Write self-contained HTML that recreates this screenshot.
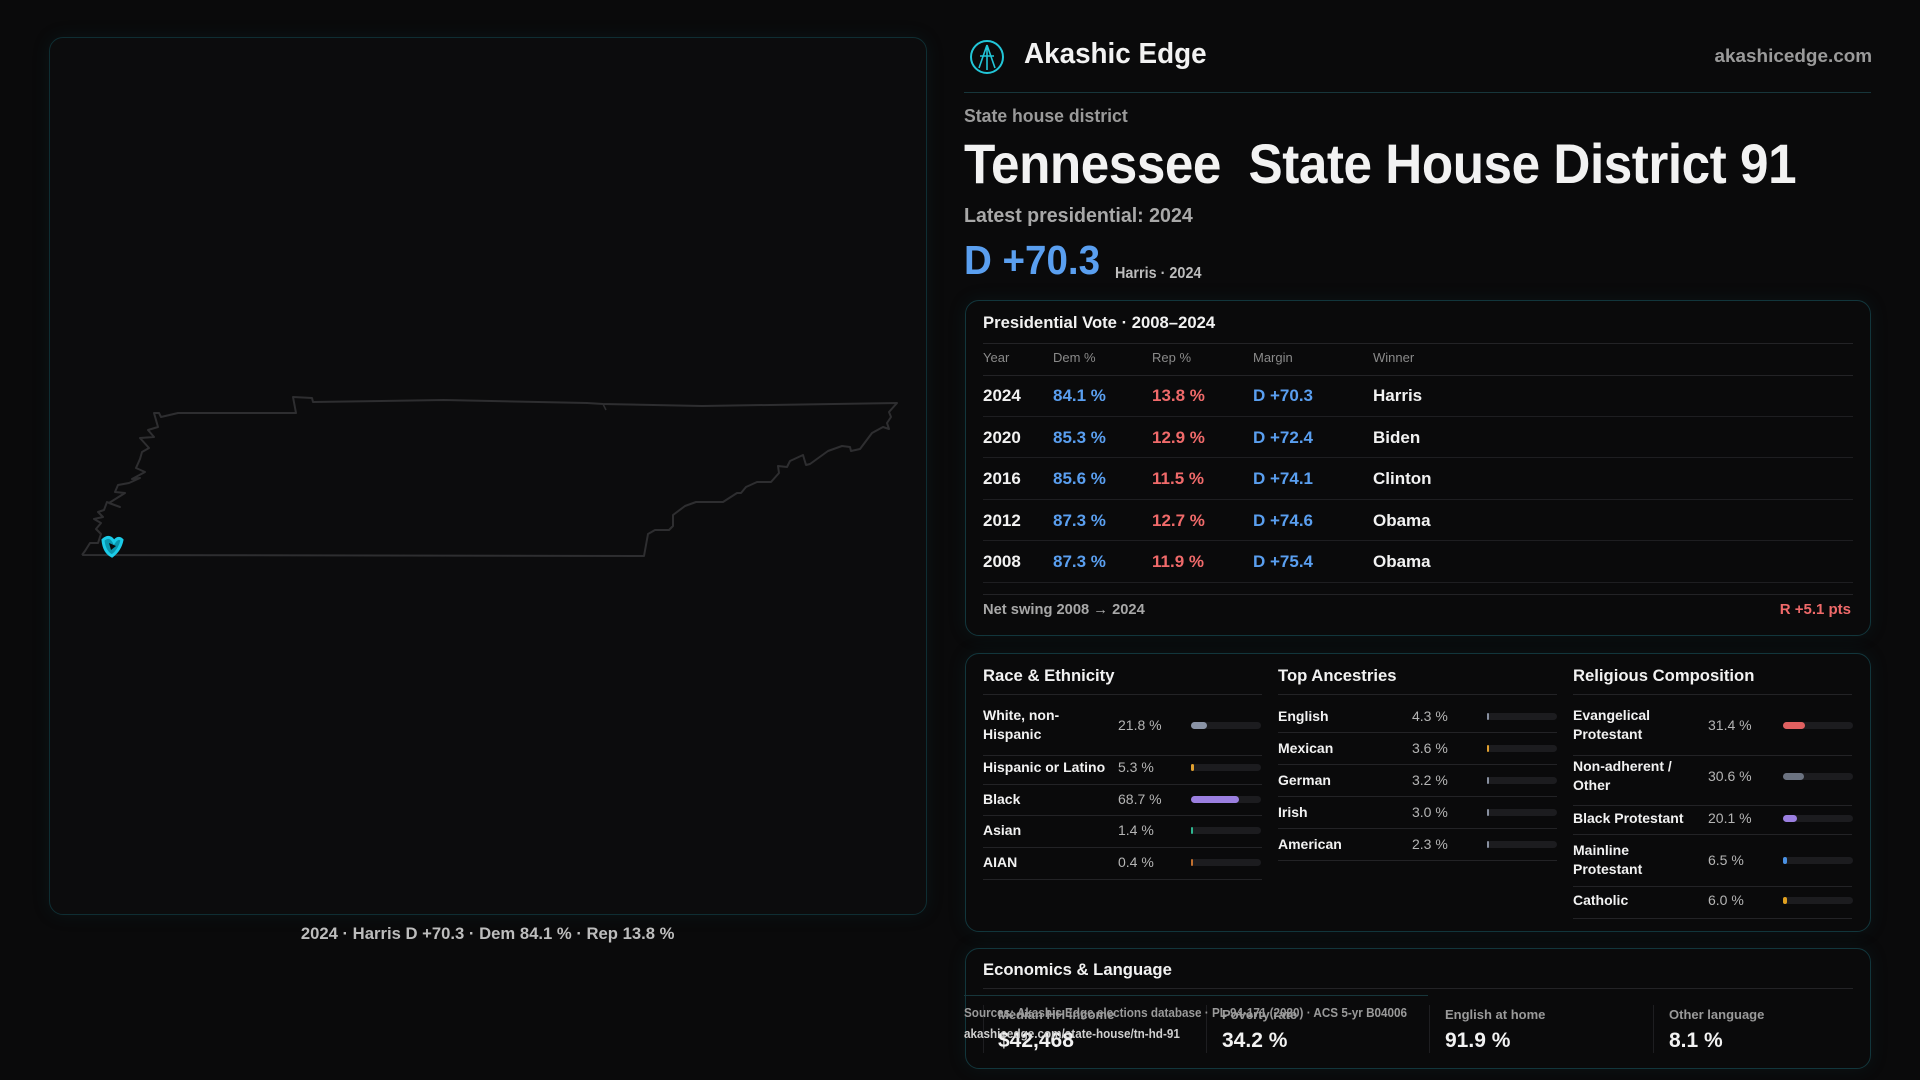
<!DOCTYPE html>
<html><head><meta charset="utf-8"><style>
*{margin:0;padding:0;box-sizing:border-box}
body{width:1920px;height:1080px;background:#0a0a0b;font-family:"Liberation Sans",sans-serif;color:#f2f2f2;position:relative;overflow:hidden}
.a{position:absolute;white-space:nowrap}
.card{position:absolute;border:1px solid #12363c;border-radius:14px;background:#0a0a0b;box-shadow:0 0 18px rgba(20,80,90,.15)}
.sx{display:inline-block;transform:scaleX(.98);transform-origin:left center}
.g{color:#9a9a9a}
.blue{color:#5a9ff0}.red{color:#f06a6a}
.hl{position:absolute;height:1px;background:#232326}
.track{position:absolute;height:7px;border-radius:4px;background:#1c1c1f;width:70px}
.fill{position:absolute;left:0;top:0;height:7px;border-radius:4px}
.lbl{font-size:14px;font-weight:bold;line-height:19px}
.val{font-size:14px;color:#b5b5b5}
</style></head><body>

<div class="card" style="left:49px;top:37px;width:878px;height:878px;background:#0c0c0d;border-color:#0f2e33"></div>
<svg class="a" style="left:0;top:0" width="960" height="1080">
<polyline fill="none" stroke="#2e2e30" stroke-width="2" stroke-linejoin="round" points="82,555 644,556 648,534 655,530 669,530 673,526 673,515 685,506 696,502 723,502 737,493 741,493 746,487 757,482 771,482 779,473 778,466 787,467 790,461 803,455 806,465 810,464 828,451 842,446 850,447 851,451 860,449 872,433 883,427 889,429 887,423 891,417 889,412 897,403 702,406 603,404 587,403 444,400 313,402 312,398 293,397 296,413 178,413 161,417 159,413 154,413 158,427 148,430 154,437 140,438 149,448 142,452 140,459 136,468 145,472 132,479 140,478 129,483 118,485 115,492 125,493 109,503 120,507 107,502 104,510 98,512 103,517 94,519 101,523 96,529 101,534 98,543 90,543 85,551 82,555"/>
<line x1="603" y1="404" x2="606" y2="410" stroke="#2e2e30" stroke-width="1.5"/>
<path d="M103,540 Q110,534 114,542 Q118,536 122,540 Q120,550 112,556 Q104,552 103,540Z" fill="#0aa6c0" stroke="#1de0ff" stroke-width="3" opacity="0.9"/>
<path d="M109,543 L116,546 L111,550Z" fill="#0a0a0b"/>
</svg>
<div class="a" style="left:0;width:976px;top:924px;text-align:center;font-size:17px;color:#bdbdbd"><span class="sx" style="transform-origin:center;font-weight:bold">2024 · Harris D +70.3 · Dem 84.1 % · Rep 13.8 %</span></div>

<svg class="a" style="left:968px;top:38px" width="38" height="38"><circle cx="19" cy="19" r="16" fill="none" stroke="#22c6d8" stroke-width="2"/><path d="M19,7 L11,30 M19,7 L27,30 M12,18 L26,18 M19,7 V32" stroke="#22c6d8" stroke-width="1.6" fill="none"/></svg>
<div class="a" style="left:1024px;top:38px;font-size:29px;font-weight:bold"><span class="sx" style="transform:scaleX(.96)">Akashic Edge</span></div>
<div class="a g" style="right:48px;top:46px;font-size:18px;font-weight:bold"><span class="sx" style="transform-origin:right center;transform:scaleX(1.05)">akashicedge.com</span></div>
<div class="hl" style="left:964px;width:907px;top:92px;background:#17363b"></div>
<div class="a g" style="left:964px;top:106px;font-size:18px;font-weight:bold"><span class="sx">State house district</span></div>
<div class="a" style="left:964px;top:131px;font-size:56px;font-weight:bold;letter-spacing:-0.5px"><span class="sx" style="transform:scaleX(.915)">Tennessee&nbsp; State House District 91</span></div>
<div class="a" style="left:964px;top:205px;font-size:20px;font-weight:bold;color:#a8a8a8"><span class="sx">Latest presidential: 2024</span></div>
<div class="a blue" style="left:964px;top:237px;font-size:41px;font-weight:bold"><span class="sx" style="transform:scaleX(.94)">D +70.3</span></div>
<div class="a" style="left:1115px;top:265px;font-size:16px;color:#bdbdbd;font-weight:bold"><span class="sx" style="transform:scaleX(.9)">Harris · 2024</span></div>

<div class="card" style="left:965px;top:300px;width:906px;height:336px"></div>
<div class="a" style="left:983px;top:313px;font-size:17px;font-weight:bold"><span class="sx">Presidential Vote · 2008–2024</span></div>
<div class="hl" style="left:983px;width:870px;top:343px"></div>
<div class="a" style="left:983px;top:350px;font-size:13px;color:#8a8a8a">Year</div>
<div class="a" style="left:1053px;top:350px;font-size:13px;color:#8a8a8a">Dem %</div>
<div class="a" style="left:1152px;top:350px;font-size:13px;color:#8a8a8a">Rep %</div>
<div class="a" style="left:1253px;top:350px;font-size:13px;color:#8a8a8a">Margin</div>
<div class="a" style="left:1373px;top:350px;font-size:13px;color:#8a8a8a">Winner</div>
<div class="hl" style="left:983px;width:870px;top:375px"></div>
<div style="position:absolute;left:983px;top:375px;width:870px;font-size:17px;font-weight:bold">
 <div style="position:relative;height:41.6px;border-bottom:1px solid #1e1e21"><span class="a" style="left:0;top:11px">2024</span><span class="a blue" style="left:70px;top:11px">84.1 %</span><span class="a red" style="left:169px;top:11px">13.8 %</span><span class="a blue" style="left:270px;top:11px">D +70.3</span><span class="a" style="left:390px;top:11px">Harris</span></div>
 <div style="position:relative;height:41.6px;border-bottom:1px solid #1e1e21"><span class="a" style="left:0;top:11px">2020</span><span class="a blue" style="left:70px;top:11px">85.3 %</span><span class="a red" style="left:169px;top:11px">12.9 %</span><span class="a blue" style="left:270px;top:11px">D +72.4</span><span class="a" style="left:390px;top:11px">Biden</span></div>
 <div style="position:relative;height:41.6px;border-bottom:1px solid #1e1e21"><span class="a" style="left:0;top:11px">2016</span><span class="a blue" style="left:70px;top:11px">85.6 %</span><span class="a red" style="left:169px;top:11px">11.5 %</span><span class="a blue" style="left:270px;top:11px">D +74.1</span><span class="a" style="left:390px;top:11px">Clinton</span></div>
 <div style="position:relative;height:41.6px;border-bottom:1px solid #1e1e21"><span class="a" style="left:0;top:11px">2012</span><span class="a blue" style="left:70px;top:11px">87.3 %</span><span class="a red" style="left:169px;top:11px">12.7 %</span><span class="a blue" style="left:270px;top:11px">D +74.6</span><span class="a" style="left:390px;top:11px">Obama</span></div>
 <div style="position:relative;height:41.6px;border-bottom:1px solid #1e1e21"><span class="a" style="left:0;top:11px">2008</span><span class="a blue" style="left:70px;top:11px">87.3 %</span><span class="a red" style="left:169px;top:11px">11.9 %</span><span class="a blue" style="left:270px;top:11px">D +75.4</span><span class="a" style="left:390px;top:11px">Obama</span></div>
</div>
<div class="hl" style="left:983px;width:870px;top:594px"></div>
<div class="a" style="left:983px;top:601px;font-size:15px;color:#a8a8a8;font-weight:bold"><span class="sx">Net swing 2008 → 2024</span></div>
<div class="a red" style="right:69px;top:601px;font-size:15px;font-weight:bold">R +5.1 pts</div>

<div class="card" style="left:965px;top:653px;width:906px;height:279px"></div>
<div class="a" style="left:983px;top:666px;font-size:17px;font-weight:bold"><span class="sx">Race &amp; Ethnicity</span></div>
<div class="a" style="left:1278px;top:666px;font-size:17px;font-weight:bold"><span class="sx">Top Ancestries</span></div>
<div class="a" style="left:1573px;top:666px;font-size:17px;font-weight:bold"><span class="sx">Religious Composition</span></div>
<div class="hl" style="left:983px;width:279px;top:694px"></div>
<div class="hl" style="left:1278px;width:279px;top:694px"></div>
<div class="hl" style="left:1573px;width:279px;top:694px"></div>

<div class="a lbl" style="left:983px;top:706px">White, non-<br>Hispanic</div><div class="a val" style="left:1118px;top:717px">21.8 %</div><div class="track" style="left:1191px;top:722px"><div class="fill" style="width:16px;background:#8a93a6"></div></div>
<div class="hl" style="left:983px;width:279px;top:755px"></div>
<div class="a lbl" style="left:983px;top:758px">Hispanic or Latino</div><div class="a val" style="left:1118px;top:759px">5.3 %</div><div class="track" style="left:1191px;top:764px"><div class="fill" style="width:3px;background:#e0a030"></div></div>
<div class="hl" style="left:983px;width:279px;top:784px"></div>
<div class="a lbl" style="left:983px;top:790px">Black</div><div class="a val" style="left:1118px;top:791px">68.7 %</div><div class="track" style="left:1191px;top:796px"><div class="fill" style="width:48px;background:#9b7fe0"></div></div>
<div class="hl" style="left:983px;width:279px;top:815px"></div>
<div class="a lbl" style="left:983px;top:821px">Asian</div><div class="a val" style="left:1118px;top:822px">1.4 %</div><div class="track" style="left:1191px;top:827px"><div class="fill" style="width:2px;background:#2fb58f"></div></div>
<div class="hl" style="left:983px;width:279px;top:847px"></div>
<div class="a lbl" style="left:983px;top:853px">AIAN</div><div class="a val" style="left:1118px;top:854px">0.4 %</div><div class="track" style="left:1191px;top:859px"><div class="fill" style="width:2px;background:#c07030"></div></div>
<div class="hl" style="left:983px;width:279px;top:879px"></div>

<div class="a lbl" style="left:1278px;top:707px">English</div><div class="a val" style="left:1412px;top:708px">4.3 %</div><div class="track" style="left:1487px;top:713px"><div class="fill" style="width:2px;background:#8890a0"></div></div>
<div class="hl" style="left:1278px;width:279px;top:732px"></div>
<div class="a lbl" style="left:1278px;top:739px">Mexican</div><div class="a val" style="left:1412px;top:740px">3.6 %</div><div class="track" style="left:1487px;top:745px"><div class="fill" style="width:2px;background:#e0a030"></div></div>
<div class="hl" style="left:1278px;width:279px;top:764px"></div>
<div class="a lbl" style="left:1278px;top:771px">German</div><div class="a val" style="left:1412px;top:772px">3.2 %</div><div class="track" style="left:1487px;top:777px"><div class="fill" style="width:2px;background:#8890a0"></div></div>
<div class="hl" style="left:1278px;width:279px;top:796px"></div>
<div class="a lbl" style="left:1278px;top:803px">Irish</div><div class="a val" style="left:1412px;top:804px">3.0 %</div><div class="track" style="left:1487px;top:809px"><div class="fill" style="width:2px;background:#8890a0"></div></div>
<div class="hl" style="left:1278px;width:279px;top:828px"></div>
<div class="a lbl" style="left:1278px;top:835px">American</div><div class="a val" style="left:1412px;top:836px">2.3 %</div><div class="track" style="left:1487px;top:841px"><div class="fill" style="width:2px;background:#8890a0"></div></div>
<div class="hl" style="left:1278px;width:279px;top:860px"></div>

<div class="a lbl" style="left:1573px;top:706px">Evangelical<br>Protestant</div><div class="a val" style="left:1708px;top:717px">31.4 %</div><div class="track" style="left:1783px;top:722px"><div class="fill" style="width:22px;background:#e06060"></div></div>
<div class="hl" style="left:1573px;width:279px;top:755px"></div>
<div class="a lbl" style="left:1573px;top:757px">Non-adherent /<br>Other</div><div class="a val" style="left:1708px;top:768px">30.6 %</div><div class="track" style="left:1783px;top:773px"><div class="fill" style="width:21px;background:#6b7280"></div></div>
<div class="hl" style="left:1573px;width:279px;top:805px"></div>
<div class="a lbl" style="left:1573px;top:809px">Black Protestant</div><div class="a val" style="left:1708px;top:810px">20.1 %</div><div class="track" style="left:1783px;top:815px"><div class="fill" style="width:14px;background:#9b7fe0"></div></div>
<div class="hl" style="left:1573px;width:279px;top:834px"></div>
<div class="a lbl" style="left:1573px;top:841px">Mainline<br>Protestant</div><div class="a val" style="left:1708px;top:852px">6.5 %</div><div class="track" style="left:1783px;top:857px"><div class="fill" style="width:4px;background:#4a90e2"></div></div>
<div class="hl" style="left:1573px;width:279px;top:886px"></div>
<div class="a lbl" style="left:1573px;top:891px">Catholic</div><div class="a val" style="left:1708px;top:892px">6.0 %</div><div class="track" style="left:1783px;top:897px"><div class="fill" style="width:4px;background:#e0a020"></div></div>
<div class="hl" style="left:1573px;width:279px;top:918px"></div>

<div class="card" style="left:965px;top:948px;width:906px;height:121px"></div>
<div class="a" style="left:983px;top:960px;font-size:17px;font-weight:bold"><span class="sx">Economics &amp; Language</span></div>
<div class="hl" style="left:983px;width:870px;top:988px"></div>
<div class="a" style="left:1206px;top:1005px;width:1px;height:48px;background:#1e1e21"></div>
<div class="a" style="left:1429px;top:1005px;width:1px;height:48px;background:#1e1e21"></div>
<div class="a" style="left:1653px;top:1005px;width:1px;height:48px;background:#1e1e21"></div>
<div class="a" style="left:983px;top:1005px;width:1px;height:48px;background:#1e1e21"></div>
<div class="a g" style="left:998px;top:1007px;font-size:13px;font-weight:bold">Median HH income</div>
<div class="a" style="left:998px;top:1029px;font-size:21px;font-weight:bold">$42,468</div>
<div class="a g" style="left:1222px;top:1007px;font-size:13px;font-weight:bold">Poverty rate</div>
<div class="a" style="left:1222px;top:1029px;font-size:21px;font-weight:bold">34.2 %</div>
<div class="a g" style="left:1445px;top:1007px;font-size:13px;font-weight:bold">English at home</div>
<div class="a" style="left:1445px;top:1029px;font-size:21px;font-weight:bold">91.9 %</div>
<div class="a g" style="left:1669px;top:1007px;font-size:13px;font-weight:bold">Other language</div>
<div class="a" style="left:1669px;top:1029px;font-size:21px;font-weight:bold">8.1 %</div>

<div class="hl" style="left:964px;width:464px;top:995px;background:#17363b"></div>
<div class="a" style="left:964px;top:1005px;font-size:13px;color:#9a9a9a;font-weight:bold"><span class="sx" style="transform:scaleX(.9)">Sources: Akashic Edge elections database · PL 94-171 (2020) · ACS 5-yr B04006</span></div>
<div class="a" style="left:964px;top:1026px;font-size:13px;color:#cfcfcf;font-weight:bold"><span class="sx" style="transform:scaleX(.9)">akashicedge.com/state-house/tn-hd-91</span></div>
</body></html>
